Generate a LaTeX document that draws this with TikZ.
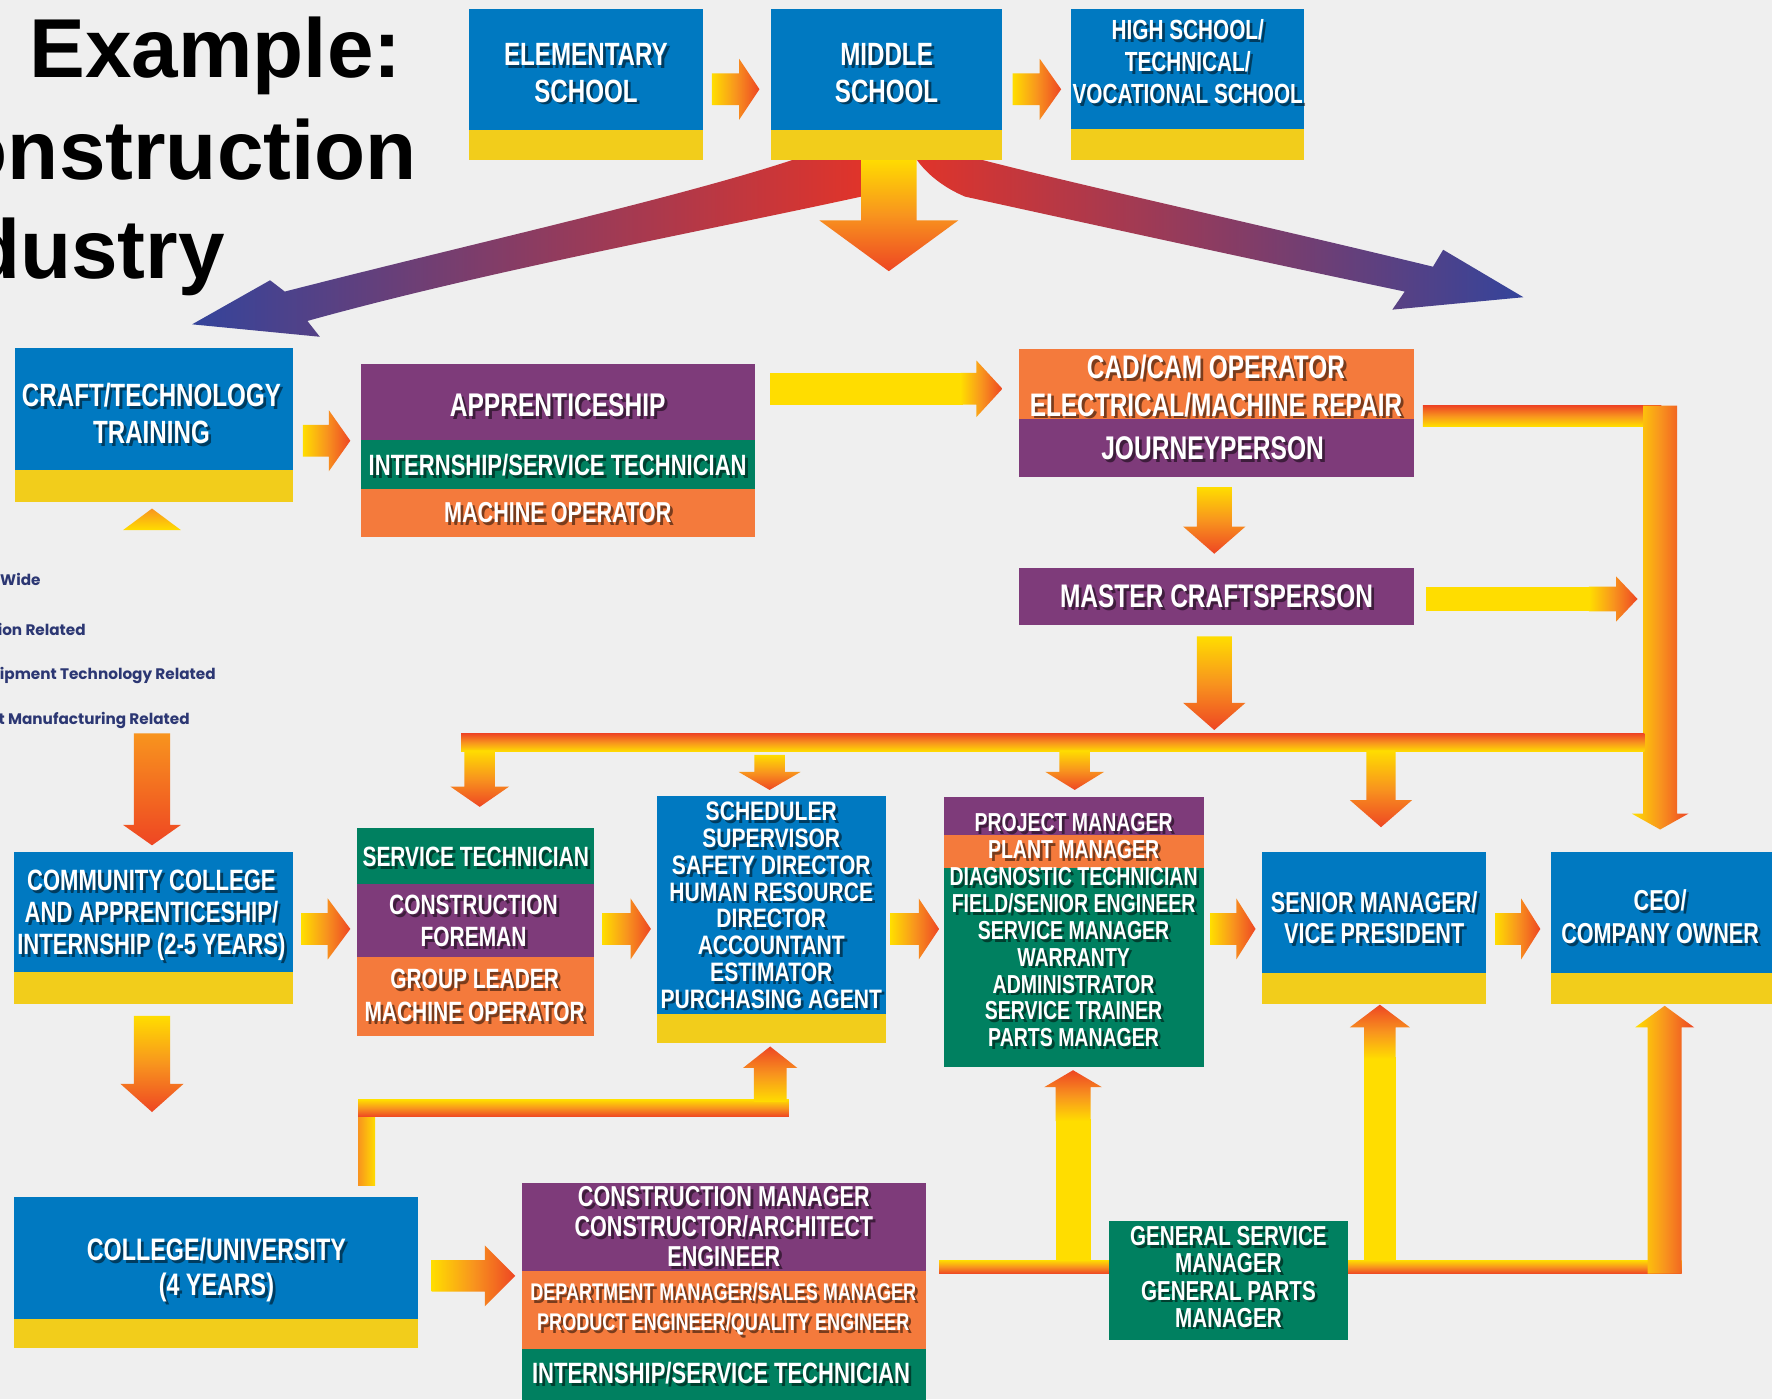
\documentclass[tikz,border=0pt]{standalone}
\usepackage{fontspec}
\newfontfamily\bxf{Liberation Sans}[FakeStretch=0.75]
\newfontfamily\bxg{Liberation Sans}[FakeStretch=0.79]
\newfontfamily\ttlf{Liberation Sans}
\newfontfamily\lgf{Poppins}
\definecolor{bg}{RGB}{239,239,239}
\definecolor{cblue}{RGB}{0,121,193}
\definecolor{cyel}{RGB}{242,205,27}
\definecolor{cpur}{RGB}{126,59,122}
\definecolor{cgrn}{RGB}{0,128,96}
\definecolor{corg}{RGB}{244,122,60}
\definecolor{ay}{RGB}{255,221,0}
\definecolor{ao}{RGB}{248,148,30}
\definecolor{ar}{RGB}{238,70,35}
\definecolor{bred}{RGB}{224,52,42}
\definecolor{bblu}{RGB}{52,68,155}
\definecolor{navy}{RGB}{44,55,115}
\tikzset{
  txt/.style={text=white, align=center, inner sep=0pt, outer sep=0pt},
  txtsh/.style={text=black, text opacity=0.5, align=center, inner sep=0pt, outer sep=0pt},
  blk/.style={inner sep=0pt, outer sep=0pt, anchor=north west},
  ttl/.style={inner sep=0pt, font=\ttlf\bfseries\fontsize{74}{80}\selectfont, text=black},
  lgd/.style={inner sep=0pt, anchor=base east, font=\lgf\bfseries\fontsize{13.5}{15}\selectfont, text=navy},
  hshade/.style={left color=ay, right color=ar, middle color=ao},
  vshade/.style={top color=ay, bottom color=ar, middle color=ao},
  ushade/.style={top color=ar, bottom color=ay, middle color=ao},
}
% box part: name, x1, y1, x2, y2, colour
\newcommand\rect[6]{\node[blk, fill=#6, minimum width={(#4)-(#2)}, minimum height={(#5)-(#3)}] (#1) at (#2,#3) {};}
% label with shadow: name, x, y, {size}{leading}, text
\newcommand\lbl[5]{%
  \node[txtsh, font=\bxf\bfseries\fontsize#4\selectfont] (#1s) at ({#2+2.5},{#3+2.5}) {#5};
  \node[txt, font=\bxf\bfseries\fontsize#4\selectfont] (#1) at (#2,#3) {#5};}
% right arrow: x1, xs, xtip, yc
\newcommand\ArR[4]{\shade[hshade] (#1,{#4-14}) -- (#2,{#4-14}) -- (#2,{#4-27}) -- (#3,#4) -- (#2,{#4+27}) -- (#2,{#4+14}) -- (#1,{#4+14}) -- cycle;}
% vertical arrow: [shading], xc, y1, ys, ytip, shaft half width, head half width
\newcommand\ArD[7][vshade]{\shade[#1] ({#2-#6},#3) -- ({#2+#6},#3) -- ({#2+#6},#4) -- ({#2+#7},#4) -- (#2,#5) -- ({#2-#7},#4) -- ({#2-#6},#4) -- cycle;}
\begin{document}
\begin{tikzpicture}[x=1pt,y=-1pt]
\useasboundingbox (0,0) rectangle (1568,1238);
\fill[bg] (0,0) rectangle (1568,1238);

% title (cropped at the left edge, as in the reference)
\node[ttl, anchor=base west] (t1) at (26,69) {Example:};
\node[ttl, anchor=base east] (t2) at (369,159) {Construction};
\node[ttl, anchor=base east] (t3) at (199,246) {Industry};

% legend (cropped)
\node[lgd, anchor=base west] (lg1) at (0,518) {Wide};
\node[lgd] (lg2) at (76,562) {ion Related};
\node[lgd] (lg3) at (191,601) {uipment Technology Related};
\node[lgd] (lg4) at (168,641) {t Manufacturing Related};

% big curved arrows from middle school
\shade[left color=bblu, right color=bred]
  (703,141) .. controls (600,175) and (420,215) .. (252,258) -- (239,248) -- (170,287) -- (283,298) -- (272,284)
  .. controls (430,240) and (620,205) .. (762,174) -- (762,141) -- cycle;
\shade[left color=bred, right color=bblu]
  (867,141) .. controls (960,165) and (1120,200) .. (1268,236) -- (1277,221) -- (1348,263) -- (1232,274) -- (1243,258)
  .. controls (1100,228) and (950,195) .. (854,174) .. controls (835,166) and (820,154) .. (811,141) -- cycle;
\ArD{786.5}{140}{195}{240}{24.5}{61.5}

% horizontal arrows
\ArR{630}{654}{672}{79}
\ArR{896}{920}{939}{79}
\ArR{268}{291}{310}{390}
\ArR{267}{290}{310}{822}
\ArR{533}{558}{576}{822}
\ArR{788}{813}{831}{822}
\ArR{1071}{1094}{1111}{822}
\ArR{1323}{1346}{1363}{822}
\shade[hshade] (382,1115) -- (429,1115) -- (429,1102) -- (456,1129) -- (429,1156) -- (429,1143) -- (382,1143) -- cycle;

% apprenticeship -> CAD/CAM
\fill[ay] (681,330) rectangle (852,358);
\shade[hshade] (850,330) -- (864,330) -- (864,319) -- (887,344) -- (864,369) -- (864,358) -- (850,358) -- cycle;
% master craftsperson -> right
\fill[ay] (1262,519) rectangle (1408,541);
\shade[hshade] (1406,519) -- (1430,519) -- (1430,510) -- (1449,530) -- (1430,550) -- (1430,541) -- (1406,541) -- cycle;

% CAD/CAM -> CEO connector
\shade[top color=ar, bottom color=ay, middle color=ao] (1259,359) rectangle (1470,377);
\shade[hshade] (1454,359) -- (1484,359) -- (1484,720) -- (1494,720) -- (1469,734) -- (1444,720) -- (1454,720) -- cycle;

% distribution bar and its arrows
\shade[top color=ar, bottom color=ay, middle color=ao] (408,649) rectangle (1455,665);
\ArD{1074.5}{431}{466}{490}{15.5}{27.5}
\ArD{1074.5}{563}{622}{646}{15.5}{27.5}
\ArD{424.5}{664}{696}{714}{13.5}{26}
\ArD{681}{668}{683}{699}{13.5}{27.5}
\ArD{951}{664}{683}{699}{13.5}{26}
\ArD{1222}{664}{708}{732}{13}{27.5}

% left column arrows
\ArD[top color=ao, bottom color=ar]{134.5}{649}{730}{748}{16}{25.5}
\ArD{134.5}{899}{959}{984}{16}{28}
\shade[top color=ao, bottom color=ay] (134.5,450) -- (160,469) -- (109,469) -- cycle;

% college -> scheduler connector
\shade[left color=ao, right color=ay] (317,973) rectangle (332,1049);
\shade[top color=ay, bottom color=ar, middle color=ao] (317,973) rectangle (698,988);
\ArD[ushade]{681.5}{975}{945}{926}{14.5}{24}

% bottom bar and up arrows
\shade[top color=ay, bottom color=ar, middle color=ao] (831,1115) rectangle (1488,1127);
\fill[ay] (934,1116) rectangle (965,990);
\ArD[ushade]{949.5}{992}{962}{947}{15.5}{25.5}
\fill[ay] (1207,1116) rectangle (1235,935);
\ArD[ushade]{1221}{937}{909}{889}{14}{26.5}
\shade[hshade] (1458,1127) -- (1458,909) -- (1447,909) -- (1473,890) -- (1499,909) -- (1488,909) -- (1488,1127) -- cycle;

% boxes
\rect{elemB}{415}{8}{622}{115}{cblue}
\rect{elemY}{415}{115}{622}{142}{cyel}
\rect{midB}{682}{8}{887}{115}{cblue}
\rect{midY}{682}{115}{887}{142}{cyel}
\rect{hsB}{948}{8}{1154}{114}{cblue}
\rect{hsY}{948}{114}{1154}{142}{cyel}
\rect{crB}{13}{308}{259}{416}{cblue}
\rect{crY}{13}{416}{259}{444}{cyel}
\rect{apP}{319}{322}{668}{389}{cpur}
\rect{apG}{319}{389}{668}{433}{cgrn}
\rect{apO}{319}{433}{668}{475}{corg}
\rect{cadO}{902}{309}{1251}{371}{corg}
\rect{cadP}{902}{371}{1251}{422}{cpur}
\rect{mcP}{902}{503}{1251}{553}{cpur}
\rect{ccB}{12}{754}{259}{860}{cblue}
\rect{ccY}{12}{860}{259}{888}{cyel}
\rect{stG}{316}{733}{526}{782}{cgrn}
\rect{stP}{316}{782}{526}{847}{cpur}
\rect{stO}{316}{847}{526}{917}{corg}
\rect{scB}{581}{704}{784}{897}{cblue}
\rect{scY}{581}{897}{784}{923}{cyel}
\rect{pmP}{835}{705}{1065}{739}{cpur}
\rect{pmO}{835}{739}{1065}{768}{corg}
\rect{pmG}{835}{768}{1065}{944}{cgrn}
\rect{smB}{1117}{754}{1315}{861}{cblue}
\rect{smY}{1117}{861}{1315}{888}{cyel}
\rect{ceoB}{1372}{754}{1575}{861}{cblue}
\rect{ceoY}{1372}{861}{1575}{888}{cyel}
\rect{cuB}{12}{1059}{370}{1167}{cblue}
\rect{cuY}{12}{1167}{370}{1193}{cyel}
\rect{cmP}{462}{1047}{819}{1125}{cpur}
\rect{cmO}{462}{1125}{819}{1194}{corg}
\rect{cmG}{462}{1194}{819}{1240}{cgrn}
\rect{gsG}{981}{1080}{1193}{1186}{cgrn}

% labels
\lbl{elemT}{518.5}{64.5}{{28.5}{32.5}}{ELEMENTARY\\SCHOOL}
\lbl{midT}{784.5}{64.5}{{28.5}{32.5}}{MIDDLE\\SCHOOL}
\lbl{hsT}{1051}{54.5}{{24.5}{28.5}}{HIGH SCHOOL/\\TECHNICAL/\\VOCATIONAL SCHOOL}
\lbl{crT}{134}{366}{{28.5}{32.5}}{CRAFT/TECHNOLOGY\\TRAINING}
\lbl{apT1}{493.5}{359}{{29}{30}}{APPRENTICESHIP}
\lbl{apT2}{493.5}{411.5}{{26}{30}}{INTERNSHIP/SERVICE TECHNICIAN}
\lbl{apT3}{493.5}{454}{{25.5}{30}}{MACHINE OPERATOR}
\lbl{cadT1}{1076}{341.5}{{28.8}{33}}{CAD/CAM OPERATOR\\ELECTRICAL/MACHINE REPAIR}
\lbl{cadT2}{1073}{397}{{29}{30}}{JOURNEYPERSON}
\lbl{mcT}{1076.5}{527.5}{{28.9}{30}}{MASTER CRAFTSPERSON}
\lbl{ccT}{134}{810}{{26}{28}}{COMMUNITY COLLEGE\\AND APPRENTICESHIP/\\INTERNSHIP (2-5 YEARS)}
\lbl{stT1}{421}{758}{{24.7}{28}}{SERVICE TECHNICIAN}
\lbl{stT2}{419}{815}{{24.7}{28}}{CONSTRUCTION\\FOREMAN}
\lbl{stT3}{420}{881}{{24.7}{29}}{GROUP LEADER\\MACHINE OPERATOR}
\lbl{scT}{682.5}{801}{{23.6}{23.7}\bxg}{SCHEDULER\\SUPERVISOR\\SAFETY DIRECTOR\\HUMAN RESOURCE\\DIRECTOR\\ACCOUNTANT\\ESTIMATOR\\PURCHASING AGENT}
\lbl{pmT1}{950}{728}{{23}{24}}{PROJECT MANAGER}
\lbl{pmT2}{950}{752}{{23}{24}}{PLANT MANAGER}
\lbl{pmT3}{950}{847}{{23}{23.8}}{DIAGNOSTIC TECHNICIAN\\FIELD/SENIOR ENGINEER\\SERVICE MANAGER\\WARRANTY\\ADMINISTRATOR\\SERVICE TRAINER\\PARTS MANAGER}
\lbl{smT}{1216}{812}{{25.5}{28}}{SENIOR MANAGER/\\VICE PRESIDENT}
\lbl{ceoT}{1469}{811}{{25.5}{29}}{CEO/\\COMPANY OWNER}
\lbl{cuT}{191.5}{1124}{{27.5}{31}}{COLLEGE/UNIVERSITY\\(4 YEARS)}
\lbl{cmT1}{640.5}{1085.5}{{25.5}{26.5}}{CONSTRUCTION MANAGER\\CONSTRUCTOR/ARCHITECT\\ENGINEER}
\lbl{cmT2}{640}{1158.5}{{21.3}{27}}{DEPARTMENT MANAGER/SALES MANAGER\\PRODUCT ENGINEER/QUALITY ENGINEER}
\lbl{cmT3}{638}{1215}{{26}{30}}{INTERNSHIP/SERVICE TECHNICIAN}
\lbl{gsT}{1087}{1130}{{24.3}{24}}{GENERAL SERVICE\\MANAGER\\GENERAL PARTS\\MANAGER}
\end{tikzpicture}
\end{document}
